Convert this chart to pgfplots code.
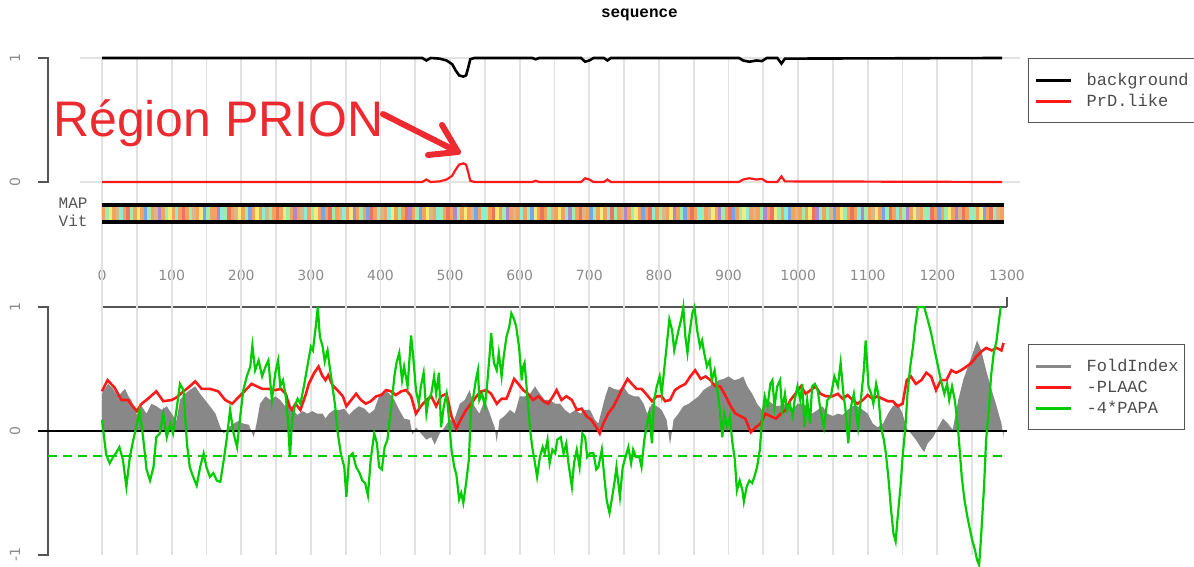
\documentclass[border=0pt]{standalone}
\usepackage{pgfplots}
\pgfplotsset{compat=1.18}
\usepackage{fontspec}
\setmainfont{DejaVu Sans}
\setmonofont{Liberation Mono}
\newfontfamily\arialfont{Liberation Sans}
\newfontfamily\titlefont{Liberation Mono Bold}

\definecolor{fgray}{HTML}{888888}
\definecolor{pred}{HTML}{FF1A1A}
\definecolor{pgreen}{HTML}{00CC00}
\definecolor{gridc}{HTML}{E2E2E2}
\definecolor{axc}{HTML}{555555}
\definecolor{lblc}{HTML}{8A8A8A}
\definecolor{annot}{HTML}{EC2A2F}
% strip palette
\definecolor{cO}{HTML}{F4A25C}
\definecolor{cP}{HTML}{D8B888}
\definecolor{cG}{HTML}{9CEEB0}
\definecolor{cY}{HTML}{F2EC78}
\definecolor{cC}{HTML}{88EED8}
\definecolor{cB}{HTML}{74A6EE}
\definecolor{cV}{HTML}{B088D0}
\definecolor{cR}{HTML}{EE7462}

\newcommand\tickf{\fontsize{14bp}{16bp}\selectfont}
\newcommand\legf{\ttfamily\fontsize{17bp}{20bp}\selectfont}

\tikzset{st/.style={mark=|, line width=3.7bp}}
\pgfplotsset{
  every axis/.append style={scale only axis, width=905bp, xmin=0, xmax=1300,
    clip=false, anchor=south west},
  leg/.style={legend style={anchor=north west, draw=axc, line width=1.3bp,
      fill=white, inner xsep=6bp, inner ysep=11bp, row sep=0bp, column sep=14bp,
      font=\legf, text=black!70, nodes={inner sep=0bp, minimum height=21bp}},
    legend cell align=left,
    legend image code/.code={\draw[##1, line width=3bp] (0bp,0bp) -- (35bp,0bp);}},
}

\begin{document}
\begin{tikzpicture}
\path[use as bounding box] (0bp,0bp) rectangle (1194bp,567bp);
\clip (0bp,0bp) rectangle (1194bp,567bp);

% ---------------- bottom panel ----------------
\begin{axis}[at={(102bp,12bp)}, height=248bp, ymin=-1, ymax=1,
  axis x line*=top, axis y line=none, ytick=\empty,
  xtick={0,100,...,1300}, minor xtick={50,150,...,1250},
  xticklabels={0,100,200,300,400,500,600,700,800,900,1000,1100,1200,1300},
  tick align=outside, major tick length=10bp, minor tick length=10bp,
  tick style={axc, line width=1.2bp}, axis line style={axc, line width=1.2bp},
  xticklabel style={font=\tickf, text=lblc, yshift=13bp},
  leg, legend style={at={(1.0232,0.851)}}]
\pgfplotsinvokeforeach{0,50,...,1250}{\draw[gridc, line width=1.8bp] (axis cs:#1,-1) -- (axis cs:#1,3.008);}
\draw[axc, line width=1.2bp] (axis cs:-91.9,1) -- (axis cs:-77.6,1) -- (axis cs:-77.6,-1) -- (axis cs:-91.9,-1);
\draw[axc, line width=1.2bp] (axis cs:-91.9,0) -- (axis cs:-77.6,0);
\node[rotate=90, font=\tickf, text=lblc] at (axis cs:-125,1) {1};
\node[rotate=90, font=\tickf, text=lblc] at (axis cs:-125,0) {0};
\node[rotate=90, font=\tickf, text=lblc] at (axis cs:-125,-1) {-1};

\addlegendimage{color=fgray}\addlegendentry{FoldIndex}
\addlegendimage{color=pred}\addlegendentry{-PLAAC}
\addlegendimage{color=pgreen}\addlegendentry{-4*PAPA}

% FoldIndex
\addplot[draw=none, fill=fgray, forget plot] coordinates {
(0,0.30)(3,0.33)(9,0.38)(16,0.34)(23,0.28)(33,0.34)(38,0.28)(42,0.25)(50,0.13)(57,0.20)
(64,0.14)(71,0.22)(78,0.20)(86,0.17)(93,0.20)(100,0.14)(107,0.08)(112,0.25)(119,0.30)(126,0.33)
(134,0.36)(141,0.30)(148,0.25)(155,0.20)(163,0.14)(170,0.03)(175,-0.02)(182,0.03)(189,0.06)(196,0.08)
(203,0.06)(211,0.05)(218,-0.05)(223,0.09)(227,0.22)(235,0.28)(242,0.25)(249,0.28)(256,0.25)(263,0.20)
(269,0.25)(273,0.17)(281,0.13)(288,0.16)(295,0.14)(302,0.16)(309,0.14)(317,0.14)(321,0.10)(326,0.14)
(333,0.17)(341,0.17)(348,0.18)(355,0.13)(362,0.17)(369,0.20)(377,0.18)(384,0.14)(391,0.17)(398,0.28)
(406,0.33)(413,0.30)(420,0.25)(427,0.17)(434,0.10)(442,0.09)(446,-0.03)(451,0.03)(458,-0.02)(466,-0.07)
(473,-0.05)(478,-0.11)(485,-0.02)(492,0.03)(499,0.09)(506,0.09)(514,0.22)(521,0.25)(528,0.33)(535,0.20)
(542,0.14)(550,0.25)(557,0.14)(564,0.03)(567,-0.09)(571,0.09)(578,0.12)(586,0.17)(593,0.14)(600,0.28)
(608,0.28)(615,0.30)(622,0.36)(629,0.30)(636,0.25)(643,0.25)(651,0.22)(658,0.22)(665,0.17)(672,0.14)
(680,0.17)(687,0.14)(694,0.17)(701,0.17)(708,0.09)(713,0.06)(718,0.17)(723,0.28)(728,0.36)(735,0.34)
(742,0.33)(749,0.36)(756,0.30)(764,0.28)(771,0.28)(778,0.22)(783,0.14)(790,0.22)(797,0.20)(804,0.17)
(811,0.09)(816,-0.11)(821,0.09)(828,0.14)(835,0.20)(843,0.22)(850,0.25)(857,0.28)(864,0.33)(872,0.36)
(879,0.38)(886,0.41)(893,0.42)(900,0.44)(908,0.41)(915,0.42)(921,0.44)(927,0.36)(934,0.30)(941,0.22)
(948,0.17)(956,0.25)(963,0.22)(970,0.20)(977,0.21)(984,0.22)(992,0.17)(999,0.22)(1006,0.22)(1013,0.20)
(1020,0.14)(1028,0.17)(1035,0.20)(1042,0.14)(1050,0.12)(1057,0.14)(1064,0.13)(1071,0.17)(1078,0.20)(1085,0.20)
(1093,0.17)(1100,0.14)(1107,0.06)(1114,0.03)(1122,0.06)(1129,0.14)(1136,0.20)(1143,0.22)(1150,0.14)(1156,0.02)
(1162,-0.02)(1169,-0.07)(1177,-0.14)(1181,-0.17)(1186,-0.10)(1194,-0.05)(1201,0.03)(1208,0.10)(1215,0.06)(1222,0.01)
(1230,0.25)(1237,0.41)(1244,0.52)(1251,0.63)(1257,0.73)(1263,0.65)(1270,0.49)(1278,0.33)(1285,0.20)(1292,0.06)
(1295,-0.05)} \closedcycle;

\draw[black, line width=1.3bp] (axis cs:-91.9,0) -- (axis cs:1300,0);
\draw[pgreen, line width=1.5bp, dash pattern=on 9bp off 6bp] (axis cs:-77.6,-0.2) -- (axis cs:1300,-0.2);

% -PLAAC
\addplot[pred, line width=2.6bp, forget plot] coordinates {
(0,0.32)(8,0.41)(18,0.35)(28,0.25)(37,0.25)(50,0.16)(57,0.22)(66,0.26)(78,0.32)(88,0.24)
(100,0.25)(107,0.27)(117,0.32)(124,0.35)(134,0.40)(143,0.34)(155,0.34)(167,0.32)(177,0.25)(187,0.22)
(201,0.30)(215,0.38)(230,0.34)(239,0.34)(249,0.33)(257,0.34)(264,0.30)(269,0.20)(273,0.17)(278,0.22)
(285,0.17)(293,0.30)(297,0.38)(305,0.47)(311,0.52)(316,0.45)(321,0.41)(325,0.45)(331,0.37)(338,0.33)
(346,0.28)(351,0.20)(358,0.25)(365,0.30)(372,0.25)(379,0.22)(386,0.24)(394,0.28)(401,0.29)(408,0.33)
(415,0.32)(422,0.29)(430,0.32)(437,0.33)(444,0.28)(451,0.14)(458,0.20)(466,0.25)(473,0.28)(480,0.20)
(487,0.28)(495,0.30)(502,0.12)(509,0.02)(516,0.10)(523,0.17)(530,0.22)(538,0.28)(545,0.32)(552,0.33)
(559,0.30)(567,0.22)(574,0.26)(581,0.26)(586,0.33)(592,0.42)(598,0.38)(605,0.33)(612,0.30)(619,0.25)
(627,0.28)(634,0.24)(641,0.22)(648,0.28)(653,0.33)(660,0.25)(667,0.28)(675,0.25)(682,0.17)(689,0.18)
(696,0.12)(703,0.09)(710,0.03)(715,-0.02)(720,0.06)(727,0.14)(735,0.20)(742,0.28)(749,0.36)(755,0.42)
(761,0.38)(768,0.34)(775,0.34)(783,0.29)(790,0.24)(797,0.28)(804,0.28)(809,0.24)(816,0.25)(823,0.33)
(831,0.36)(838,0.38)(845,0.44)(852,0.49)(860,0.42)(867,0.44)(874,0.41)(881,0.36)(888,0.36)(896,0.28)
(903,0.20)(910,0.14)(917,0.12)(924,0.10)(932,-0.01)(939,0.03)(946,0.06)(953,0.14)(960,0.12)(968,0.10)
(975,0.14)(982,0.17)(989,0.25)(996,0.30)(1004,0.36)(1011,0.30)(1018,0.33)(1025,0.36)(1032,0.30)(1040,0.28)
(1049,0.28)(1057,0.30)(1064,0.26)(1071,0.29)(1078,0.25)(1085,0.22)(1093,0.25)(1100,0.29)(1107,0.26)(1114,0.28)
(1121,0.26)(1129,0.24)(1136,0.24)(1143,0.20)(1150,0.22)(1156,0.41)(1162,0.44)(1169,0.38)(1177,0.41)(1184,0.47)
(1191,0.44)(1198,0.33)(1205,0.41)(1213,0.41)(1220,0.49)(1227,0.47)(1234,0.49)(1242,0.52)(1249,0.55)(1256,0.60)
(1263,0.64)(1270,0.67)(1278,0.65)(1285,0.67)(1292,0.65)(1295,0.71)};

% -4*PAPA
\addplot[pgreen, line width=2.2bp, forget plot] coordinates {
(0,0.09)(3,-0.05)(6,-0.19)(11,-0.26)(16,-0.21)(21,-0.17)(25,-0.13)(30,-0.23)(35,-0.45)(40,-0.21)
(45,-0.07)(50,0.05)(54,0.17)(59,-0.05)(64,-0.31)(69,-0.40)(74,-0.29)(78,-0.05)(83,-0.02)(88,0.14)
(93,-0.05)(98,0.06)(102,-0.02)(107,0.17)(112,0.38)(117,0.33)(122,-0.10)(126,-0.29)(131,-0.37)(136,-0.44)
(141,-0.29)(146,-0.18)(150,-0.29)(155,-0.37)(160,-0.34)(165,-0.40)(170,-0.41)(175,-0.23)(179,-0.07)(184,0.17)
(189,-0.02)(194,-0.13)(199,0.14)(203,0.33)(208,0.44)(213,0.52)(216,0.69)(220,0.49)(225,0.57)(230,0.44)
(235,0.52)(239,0.57)(244,0.25)(249,0.47)(253,0.57)(256,0.36)(260,0.41)(264,0.28)(267,0.09)(270,-0.21)
(273,0.09)(277,0.20)(281,0.26)(285,0.22)(290,0.36)(295,0.52)(300,0.68)(303,0.65)(307,0.84)(310,1.00)
(313,0.76)(317,0.68)(320,0.56)(324,0.65)(327,0.52)(331,0.36)(335,0.20)(338,0.01)(343,-0.18)(348,-0.29)
(351,-0.53)(355,-0.21)(360,-0.18)(365,-0.29)(370,-0.34)(374,-0.40)(378,-0.42)(382,-0.52)(386,-0.23)(391,-0.02)
(395,-0.10)(398,-0.29)(402,-0.31)(406,-0.13)(410,-0.07)(415,0.17)(420,0.44)(423,0.55)(427,0.63)(431,0.41)
(434,0.52)(439,0.36)(444,0.77)(447,0.60)(451,0.33)(455,0.22)(458,0.36)(462,0.47)(466,0.14)(469,0.25)
(473,0.30)(477,0.44)(480,0.30)(484,0.47)(487,0.03)(491,0.20)(495,0.30)(498,0.12)(502,-0.15)(506,-0.29)
(509,-0.35)(513,-0.55)(516,-0.50)(519,-0.58)(523,-0.42)(527,-0.23)(530,0.17)(534,0.30)(537,0.41)(540,0.49)
(542,0.25)(546,0.30)(550,0.20)(553,0.36)(557,0.63)(559,0.79)(563,0.55)(567,0.49)(570,0.63)(574,0.44)
(577,0.60)(581,0.76)(585,0.84)(588,0.95)(592,0.90)(595,0.84)(599,0.68)(603,0.41)(605,0.52)(607,0.55)
(611,0.28)(615,0.01)(618,-0.13)(622,-0.26)(625,-0.37)(629,-0.21)(633,-0.13)(636,-0.18)(640,-0.07)(643,-0.26)
(647,-0.15)(651,-0.18)(654,-0.07)(659,-0.05)(663,-0.18)(667,-0.10)(670,-0.26)(675,-0.45)(678,-0.26)(682,-0.15)
(686,-0.29)(690,-0.02)(694,-0.05)(697,-0.21)(701,-0.18)(706,-0.18)(710,-0.31)(713,-0.29)(718,-0.15)(721,-0.34)
(725,-0.56)(729,-0.66)(732,-0.56)(736,-0.42)(739,-0.29)(744,-0.53)(748,-0.29)(752,-0.21)(756,-0.13)(760,-0.26)
(763,-0.15)(767,-0.21)(772,-0.21)(775,-0.29)(779,-0.07)(783,0.06)(786,0.14)(790,-0.10)(793,0.25)(797,0.36)
(801,0.44)(804,0.30)(808,0.52)(811,0.68)(815,0.90)(819,0.81)(822,0.65)(825,0.73)(828,0.81)(832,0.90)
(835,1.00)(838,0.76)(841,0.63)(844,0.79)(848,0.95)(851,1.00)(855,0.81)(859,0.68)(862,0.73)(865,0.63)
(869,0.52)(873,0.57)(876,0.41)(880,0.49)(884,0.33)(887,0.20)(891,-0.05)(894,0.14)(898,0.03)(902,0.12)
(905,-0.07)(909,-0.23)(912,-0.48)(916,-0.40)(920,-0.48)(922,-0.57)(926,-0.45)(930,-0.40)(934,-0.42)(937,-0.37)
(941,-0.29)(945,-0.15)(948,0.09)(952,0.28)(956,0.20)(960,0.38)(963,0.41)(966,0.20)(970,0.36)(974,0.41)
(977,0.17)(981,0.30)(984,0.17)(988,0.22)(992,0.12)(995,0.25)(999,0.36)(1003,0.25)(1006,0.38)(1009,0.03)
(1013,0.25)(1017,0.06)(1020,0.36)(1024,0.38)(1028,0.33)(1032,0.17)(1037,0.03)(1042,0.25)(1047,0.28)(1052,0.44)
(1057,0.36)(1061,0.55)(1065,0.30)(1068,0.17)(1072,-0.10)(1076,0.20)(1080,0.30)(1083,0.17)(1086,0.03)(1090,0.25)
(1094,0.47)(1097,0.73)(1101,0.36)(1105,0.30)(1108,0.22)(1112,0.38)(1115,0.30)(1119,0.03)(1123,-0.07)(1126,-0.18)
(1130,-0.40)(1133,-0.61)(1137,-0.83)(1140,-0.89)(1143,-0.69)(1147,-0.45)(1150,-0.21)(1154,0.03)(1157,0.30)(1161,0.52)
(1165,0.68)(1168,0.84)(1172,1.00)(1177,1.00)(1181,1.00)(1186,0.90)(1191,0.79)(1196,0.65)(1201,0.52)(1205,0.41)
(1210,0.30)(1214,0.38)(1217,0.25)(1221,0.36)(1225,0.25)(1229,0.06)(1232,-0.15)(1235,-0.37)(1239,-0.56)(1243,-0.69)
(1247,-0.80)(1250,-0.88)(1254,-0.96)(1257,-1.04)(1260,-1.08)(1263,-0.83)(1267,-0.45)(1270,-0.07)(1274,0.17)(1277,0.44)
(1281,0.63)(1285,0.73)(1288,0.87)(1291,1.00)};
\end{axis}

% ---------------- MAP / Vit strip ----------------
\begin{axis}[at={(102bp,343bp)}, height=21bp, ymin=0, ymax=1,
  axis lines=none, xtick=\empty, ytick=\empty]
\fill[black] (axis cs:0,0) rectangle (axis cs:1295,0.19);
\fill[black] (axis cs:0,0.81) rectangle (axis cs:1295,1);
\addplot[scatter, only marks, mark=|, mark size=6.5bp, point meta=explicit symbolic,
  scatter/classes={o={st,draw=cO}, p={st,draw=cP}, g={st,draw=cG}, y={st,draw=cY},
    c={st,draw=cC}, b={st,draw=cB}, v={st,draw=cV}, r={st,draw=cR}}]
  table[row sep=\\, meta=c, y expr=0.5] {
x c\\
2.5 o\\7.5 g\\12.5 y\\17.5 o\\22.5 p\\27.5 c\\32.5 o\\37.5 r\\42.5 g\\47.5 o\\
52.5 y\\57.5 o\\62.5 b\\67.5 g\\72.5 o\\77.5 p\\82.5 v\\87.5 o\\92.5 g\\97.5 y\\
102.5 o\\107.5 c\\112.5 o\\117.5 r\\122.5 o\\127.5 g\\132.5 p\\137.5 o\\142.5 y\\147.5 b\\
152.5 g\\157.5 o\\162.5 o\\167.5 v\\172.5 c\\177.5 g\\182.5 r\\187.5 o\\192.5 p\\197.5 y\\
202.5 o\\207.5 g\\212.5 b\\217.5 o\\222.5 y\\227.5 o\\232.5 c\\237.5 p\\242.5 g\\247.5 o\\
252.5 r\\257.5 o\\262.5 y\\267.5 g\\272.5 o\\277.5 v\\282.5 o\\287.5 p\\292.5 c\\297.5 o\\
302.5 g\\307.5 y\\312.5 o\\317.5 b\\322.5 o\\327.5 r\\332.5 g\\337.5 o\\342.5 p\\347.5 c\\
352.5 o\\357.5 y\\362.5 v\\367.5 o\\372.5 g\\377.5 o\\382.5 b\\387.5 r\\392.5 o\\397.5 g\\
402.5 p\\407.5 o\\412.5 c\\417.5 y\\422.5 o\\427.5 g\\432.5 o\\437.5 r\\442.5 v\\447.5 o\\
452.5 g\\457.5 b\\462.5 o\\467.5 y\\472.5 p\\477.5 o\\482.5 c\\487.5 g\\492.5 o\\497.5 r\\
502.5 o\\507.5 v\\512.5 g\\517.5 o\\522.5 y\\527.5 o\\532.5 p\\537.5 b\\542.5 o\\547.5 c\\
552.5 g\\557.5 o\\562.5 r\\567.5 y\\572.5 o\\577.5 g\\582.5 v\\587.5 o\\592.5 p\\597.5 o\\
602.5 c\\607.5 o\\612.5 g\\617.5 b\\622.5 y\\627.5 o\\632.5 r\\637.5 o\\642.5 g\\647.5 p\\
652.5 o\\657.5 y\\662.5 o\\667.5 c\\672.5 v\\677.5 g\\682.5 o\\687.5 r\\692.5 p\\697.5 o\\
702.5 b\\707.5 g\\712.5 o\\717.5 y\\722.5 o\\727.5 c\\732.5 r\\737.5 g\\742.5 o\\747.5 p\\
752.5 v\\757.5 o\\762.5 g\\767.5 y\\772.5 o\\777.5 b\\782.5 o\\787.5 r\\792.5 c\\797.5 o\\
802.5 g\\807.5 p\\812.5 o\\817.5 y\\822.5 v\\827.5 o\\832.5 g\\837.5 b\\842.5 o\\847.5 r\\
852.5 o\\857.5 c\\862.5 g\\867.5 o\\872.5 p\\877.5 y\\882.5 o\\887.5 v\\892.5 g\\897.5 o\\
902.5 r\\907.5 b\\912.5 o\\917.5 g\\922.5 y\\927.5 c\\932.5 o\\937.5 p\\942.5 o\\947.5 g\\
952.5 v\\957.5 o\\962.5 r\\967.5 y\\972.5 g\\977.5 o\\982.5 c\\987.5 b\\992.5 o\\997.5 p\\
1002.5 o\\1007.5 g\\1012.5 o\\1017.5 y\\1022.5 r\\1027.5 v\\1032.5 c\\1037.5 o\\1042.5 g\\1047.5 p\\
1052.5 b\\1057.5 o\\1062.5 y\\1067.5 g\\1072.5 o\\1077.5 r\\1082.5 o\\1087.5 c\\1092.5 v\\1097.5 g\\
1102.5 o\\1107.5 p\\1112.5 y\\1117.5 o\\1122.5 b\\1127.5 g\\1132.5 r\\1137.5 o\\1142.5 c\\1147.5 o\\
1152.5 g\\1157.5 v\\1162.5 o\\1167.5 y\\1172.5 p\\1177.5 o\\1182.5 g\\1187.5 c\\1192.5 r\\1197.5 o\\
1202.5 b\\1207.5 o\\1212.5 g\\1217.5 y\\1222.5 o\\1227.5 v\\1232.5 p\\1237.5 r\\1242.5 o\\1247.5 c\\
1252.5 g\\1257.5 o\\1262.5 y\\1267.5 b\\1272.5 o\\1277.5 r\\1282.5 g\\1287.5 p\\1292.5 o\\
};
\node[anchor=east, font=\ttfamily\fontsize{16bp}{18bp}\selectfont, text=axc] at (axis cs:-15.8,1.0) {MAP};
\node[anchor=east, font=\ttfamily\fontsize{16bp}{18bp}\selectfont, text=axc] at (axis cs:-15.8,0.14) {Vit};
\end{axis}

% ---------------- top panel ----------------
\begin{axis}[at={(102bp,385bp)}, height=124bp, ymin=0, ymax=1,
  axis lines=none, xtick=\empty, ytick=\empty,
  leg, legend style={at={(1.0232,1)}}]
\draw[gridc, line width=1.8bp] (axis cs:-31.6,0) -- (axis cs:1318.6,0);
\draw[gridc, line width=1.8bp] (axis cs:-31.6,1) -- (axis cs:1318.6,1);
\draw[axc, line width=1.2bp] (axis cs:-91.9,1) -- (axis cs:-77.6,1) -- (axis cs:-77.6,0) -- (axis cs:-91.9,0);
\node[rotate=90, font=\tickf, text=lblc] at (axis cs:-125,1) {1};
\node[rotate=90, font=\tickf, text=lblc] at (axis cs:-125,0) {0};

\addlegendimage{color=black}\addlegendentry{background\hspace{25bp}}
\addlegendimage{color=pred}\addlegendentry{PrD.like}

\addplot[black, line width=2.6bp, forget plot] coordinates {
(0,1)(460,1)(466,0.98)(472,1)(485,0.995)(495,0.98)(503,0.95)(508,0.9)(513,0.86)(519,0.85)
(523,0.86)(526,0.92)(529,0.99)(535,1)(618,1)(623,0.99)(628,1)(688,1)(694,0.97)(700,0.98)
(706,1)(721,1)(726,0.98)(731,1)(915,1)(921,0.98)(930,0.97)(940,0.98)(948,0.975)(955,1)
(970,1)(976,0.955)(981,0.995)(1293,1)};
\addplot[pred, line width=2.2bp, forget plot] coordinates {
(0,0)(460,0)(466,0.02)(472,0)(485,0.005)(495,0.02)(503,0.05)(508,0.1)(513,0.14)(519,0.15)
(523,0.14)(526,0.08)(529,0.01)(535,0)(618,0)(623,0.01)(628,0)(688,0)(694,0.03)(700,0.02)
(706,0)(721,0)(726,0.02)(731,0)(915,0)(921,0.02)(930,0.03)(940,0.02)(948,0.025)(955,0)
(970,0)(976,0.045)(981,0.005)(1293,0)};

\node[font=\titlefont\fontsize{16bp}{18bp}\selectfont] at (axis cs:772,1.347) {sequence};
\node[anchor=base west, inner sep=0pt, text=annot, font=\arialfont\fontsize{50bp}{56bp}\selectfont]
  at (axis cs:-70.4,0.363) {Région PRION};
\draw[annot, line width=6bp, line cap=round, line join=round]
  (axis cs:403.6,0.548) -- (axis cs:511.4,0.242);
\draw[annot, line width=6bp, line cap=round, line join=round]
  (axis cs:488.4,0.460) -- (axis cs:511.4,0.242) -- (axis cs:468.3,0.218);
\end{axis}
\end{tikzpicture}
\end{document}
